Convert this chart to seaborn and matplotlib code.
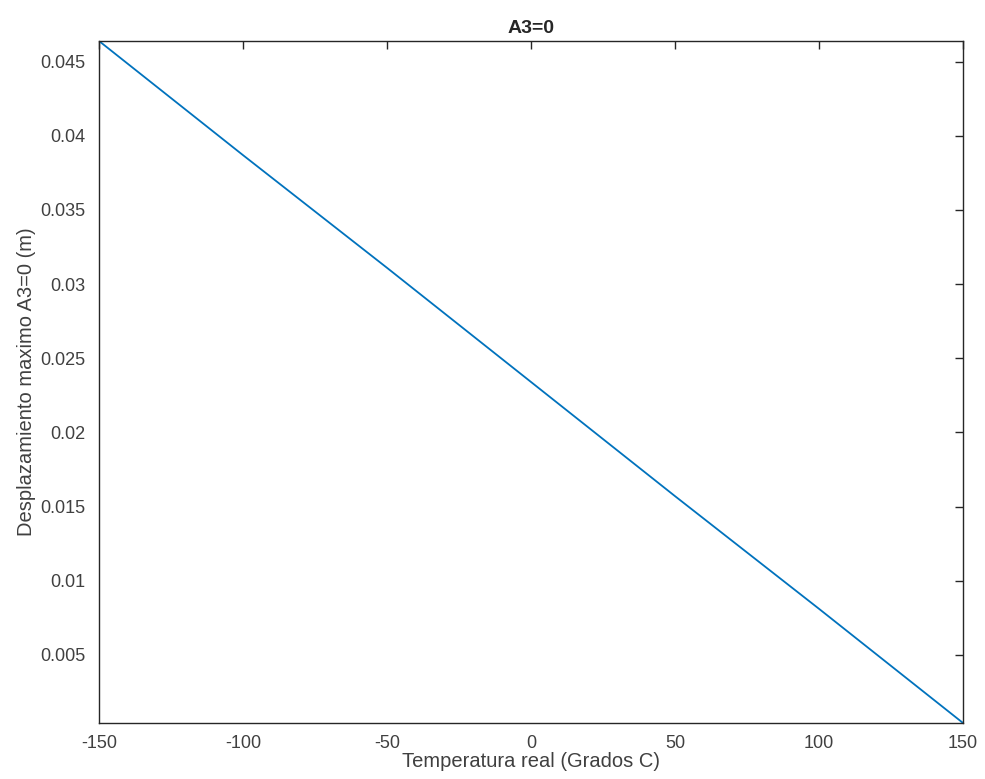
import matplotlib
matplotlib.use("Agg")
import matplotlib.pyplot as plt
import pandas as pd
import seaborn as sns

# valores
temperatura = [-150, -100, -50, 0, 50, 100, 150]
desplazamiento = [0.0464, 0.0387, 0.0311, 0.0234, 0.0157, 0.0081, 0.0004]
xticks = [-150, -100, -50, 0, 50, 100, 150]
yticks = [0.005, 0.01, 0.015, 0.02, 0.025, 0.03, 0.035, 0.04, 0.045]

sns.set_style("white")
plt.rcParams["font.family"] = ["Liberation Sans", "DejaVu Sans"]

df = pd.DataFrame({"T": temperatura, "d": desplazamiento})

fig = plt.figure(figsize=(9.85, 7.79), dpi=100)
ax = fig.add_axes([0.1005, 0.0719, 0.8772, 0.8755])
sns.lineplot(data=df, x="T", y="d", color="#0072BD", linewidth=1.3, ax=ax)

ax.set_xlim(-150, 150)
ax.set_ylim(min(desplazamiento), max(desplazamiento))
ax.set_xticks(xticks)
ax.set_xticklabels([str(t) for t in xticks])
ax.set_yticks(yticks)
ax.set_yticklabels([f"{t:g}" for t in yticks])
ax.tick_params(direction="in", length=6, width=1, colors="#262626", labelsize=13,
               labelcolor="#404040", top=True, right=True, labeltop=False, labelright=False)
ax.tick_params(axis="y", pad=10)
ax.tick_params(axis="x", pad=9)
for s in ax.spines.values():
    s.set_color("#262626")
    s.set_linewidth(1)

ax.set_xlabel("Temperatura real (Grados C)", fontsize=14.5, color="#404040", labelpad=0)
ax.set_ylabel("Desplazamiento maximo A3=0 (m)", fontsize=14.5, color="#404040", labelpad=3)
ax.set_title("A3=0", fontsize=14, fontweight="bold", pad=6)

fig.savefig("out.png", dpi=100)
